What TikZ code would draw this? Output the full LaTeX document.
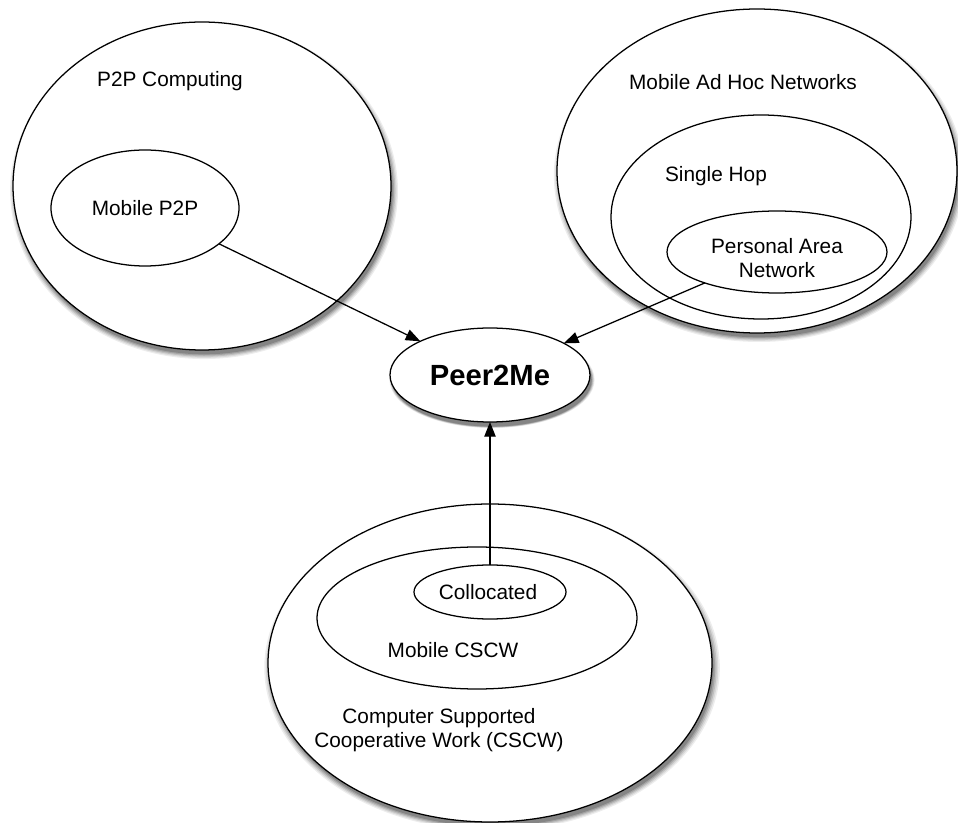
\documentclass[tikz,border=0pt]{standalone}
\usepackage{fontspec}
\setmainfont{Liberation Sans}
\usetikzlibrary{shapes.geometric,shadows,arrows.meta}
\begin{document}
\begin{tikzpicture}[x=0.75pt,y=-0.75pt,
  region/.style 2 args={ellipse, draw, fill=white, line width=0.95pt,
    inner sep=0pt, outer sep=0pt,
    minimum width={#1*1.5pt}, minimum height={#2*1.5pt}},
  % layered grey rings give a soft shadow below and to the right
  softshadow/.style={
    general shadow={fill=black!7,  draw=none, shadow xshift=1.5pt, shadow yshift=-3.5pt, shadow scale=1.026},
    general shadow={fill=black!15, draw=none, shadow xshift=1.5pt, shadow yshift=-3.5pt, shadow scale=1.019},
    general shadow={fill=black!25, draw=none, shadow xshift=1.5pt, shadow yshift=-3.5pt, shadow scale=1.012},
    general shadow={fill=black!36, draw=none, shadow xshift=1.5pt, shadow yshift=-3.5pt, shadow scale=1.005},
    general shadow={fill=black!48, draw=none, shadow xshift=1.5pt, shadow yshift=-3.5pt, shadow scale=0.998}},
  lbl/.style={font=\fontsize{15.6}{18.5}\selectfont, align=center,
    inner sep=0pt, anchor=base},
  link/.style={line width=0.95pt, -{Triangle[length=11pt,width=8.5pt]}}
]
\useasboundingbox (0,0) rectangle (958,823);

% P2P computing
\node[region={189}{164}, softshadow] (p2p) at (202,186) {};
\node[region={94}{58}] (mp2p) at (145,208) {};
\node[lbl] (p2pT) at (170,87) {P2P Computing};
\node[lbl] (mp2pT) at (145,216) {Mobile P2P};

% Mobile ad hoc networks
\node[region={200}{162}, softshadow] (manet) at (757,171) {};
\node[region={150}{102}] (hop) at (761,217) {};
\node[region={110}{41}] (pan) at (777,252) {};
\node[lbl] (manetT) at (743,90) {Mobile Ad Hoc Networks};
\node[lbl] (hopT) at (716,182) {Single Hop};
\node[lbl] (panT) at (777,278) {Personal Area\\Network};

% Central system
\node[region={100}{47}, softshadow] (peer) at (490,375) {};
\node[lbl, font=\bfseries\fontsize{21.9}{26}\selectfont] (peerT) at (490,386) {Peer2Me};

% CSCW
\node[region={222}{159}, softshadow] (cscw) at (490,663) {};
\node[region={160}{71}] (mcscw) at (477,618) {};
\node[region={76}{27}] (coll) at (490,592) {};
\node[lbl] (collT) at (488,600) {Collocated};
\node[lbl] (mcscwT) at (453,658) {Mobile CSCW};
\node[lbl] (cscwT) at (439,748) {Computer Supported\\Cooperative Work (CSCW)};

% Contributions to Peer2Me
\draw[link] (mp2p) -- (peer);
\draw[link] (pan) -- (peer);
\draw[link] (coll) -- (peer);
\end{tikzpicture}
\end{document}
